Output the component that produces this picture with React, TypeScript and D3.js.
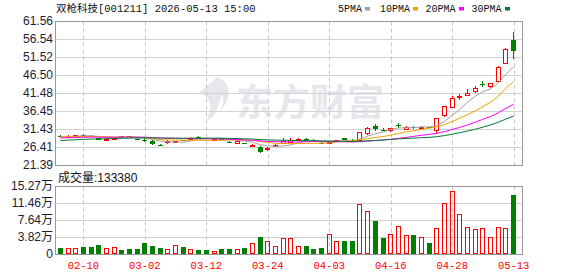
import React, { useRef, useEffect } from 'react';
import * as d3 from 'd3';

// trading days shown (MM-DD)
const dates = [
  '02-05', '02-06', '02-09', '02-10', '02-11', '02-12', '02-13', '02-24', '02-25', '02-26',
  '02-27', '03-02', '03-03', '03-04', '03-05', '03-06', '03-09', '03-10', '03-11', '03-12',
  '03-13', '03-16', '03-17', '03-18', '03-19', '03-20', '03-23', '03-24', '03-25', '03-26',
  '03-27', '03-30', '03-31', '04-01', '04-02', '04-03', '04-07', '04-08', '04-09', '04-10',
  '04-13', '04-14', '04-15', '04-16', '04-17', '04-20', '04-21', '04-22', '04-23', '04-24',
  '04-27', '04-28', '04-29', '04-30', '05-06', '05-07', '05-08', '05-11', '05-12', '05-13',
];

const opens = [
  29.55, 29.45, 29.5, 29.8, 29.6, 28.8, 28.55, 28.7, 29.4, 29.35,
  28.75, 28.45, 28.2, 27.1, 27.75, 27.9, 28.4, 28.9, 29.3, 28.9,
  28.4, 28.75, 27.85, 27.5, 27.5, 26.95, 26.45, 25.8, 26.9, 27.6,
  27.8, 28.6, 28.65, 28.45, 27.6, 27.5, 28.05, 28.9, 28.2, 28.3,
  30.2, 32.3, 31.25, 31.1, 32.55, 31.55, 32.1, 31.65, 31.9, 31.11,
  35.3, 37.54, 40.4, 40.8, 41.9, 43.95, 43.3, 44.9, 49.86, 56.19,
];
const closes = [
  29.45, 29.6, 29.62, 29.65, 29.4, 28.5, 28.7, 28.85, 29.25, 29.2,
  28.6, 28.35, 27.2, 26.95, 28.2, 28.1, 28.25, 29.05, 29.2, 28.7,
  28.7, 28.6, 27.7, 27.95, 27.4, 27.05, 25.1, 26.25, 27.05, 28.1,
  28.35, 28.7, 28.1, 28.35, 27.45, 27.8, 28.4, 28.4, 28.1, 30.63,
  31.8, 31.4, 31.15, 31.7, 32.55, 32.1, 31.6, 32.0, 31.75, 34.47,
  37.8, 40.06, 40.55, 41.6, 42.9, 43.95, 44.15, 48.74, 53.78, 53.11,
];
const highs = [
  29.8, 29.75, 29.75, 29.9, 29.7, 29.0, 28.85, 29.0, 29.5, 29.45,
  28.85, 28.9, 28.3, 27.2, 28.25, 28.2, 28.5, 29.2, 29.4, 29.0,
  28.8, 28.8, 27.95, 28.0, 27.6, 27.2, 26.6, 26.4, 27.2, 28.8,
  28.9, 29.0, 28.8, 28.7, 27.7, 28.0, 28.5, 29.0, 28.6, 30.7,
  31.9, 32.9, 31.6, 31.8, 33.2, 32.3, 32.3, 32.2, 32.0, 34.6,
  37.9, 40.7, 41.2, 42.5, 43.4, 44.75, 44.3, 48.9, 54.0, 58.4,
];
const lows = [
  29.1, 29.35, 29.4, 29.55, 29.3, 28.3, 28.45, 28.6, 29.1, 29.1,
  28.5, 27.9, 27.1, 26.85, 27.2, 27.4, 28.1, 28.8, 29.1, 28.6,
  28.3, 28.5, 27.6, 27.2, 27.3, 26.8, 24.7, 25.3, 26.8, 27.5,
  27.6, 28.3, 28.0, 28.1, 27.3, 27.4, 27.9, 28.3, 27.9, 28.1,
  29.8, 31.0, 30.9, 30.55, 31.7, 31.4, 31.5, 31.5, 31.6, 30.0,
  34.7, 37.4, 39.6, 40.6, 41.4, 43.1, 42.9, 44.5, 49.7, 50.98,
];
const volumes = [
  14100, 14000, 14000, 16300, 16300, 20800, 14000, 15500, 9600, 12000,
  12000, 25300, 18500, 14000, 12000, 19500, 16300, 12000, 9600, 9600,
  7400, 12000, 12000, 12000, 14000, 25300, 38700, 29800, 17700, 35800,
  35800, 17700, 18500, 12000, 14000, 44700, 29800, 29800, 29800, 111800,
  96100, 74400, 36400, 44700, 62600, 42500, 43200, 38000, 25300, 58100,
  114000, 140900, 90000, 60400, 55900, 58100, 38000, 60400, 58100, 133380,
];
// closes before the visible window, needed for the moving averages
const priorCloses = [
  26.2, 26.5, 26.4, 26.9, 27.1, 26.8, 27.0, 26.9, 27.2, 27.3,
  27.9, 28.3, 28.6, 28.4, 28.8, 28.7, 28.9, 28.6, 28.8, 29.0,
  29.1, 29.3, 29.0, 29.4, 29.2, 29.3, 29.1, 29.0, 29.3,
];

const priceTicks = [21.39, 26.41, 31.43, 36.45, 41.48, 46.5, 51.52, 56.54, 61.56];
const volTicks = [0, 38200, 76400, 114600, 152700];
const xLabels = ['02-10', '03-02', '03-12', '03-24', '04-03', '04-16', '04-28', '05-13'];
const maPeriods = [5, 10, 20, 30];
const maNames = ['5PMA', '10PMA', '20PMA', '30PMA'];

const title = '双枪科技[001211] 2026-05-13 15:00';
const volTitle = '成交量:133380';

const UP = '#ff0000';
const DOWN = '#008000';
const maColors = ['#a0a0a0', '#f0a000', '#ff00ff', '#007a33'];
const MONO = "'Liberation Mono', 'Noto Sans CJK SC', monospace";
const SANS = "'Liberation Sans', 'Noto Sans CJK SC', sans-serif";

function KChart() {
  const svgRef = useRef<SVGSVGElement>(null);

  useEffect(() => {
    const svg = d3.select(svgRef.current);
    svg.selectAll('*').remove();

    const left = 55.5;
    const right = 522.5;

    const x = d3.scaleBand().domain(dates).range([56.5, 517.5]);
    const bw = x.bandwidth();
    const cx = (d: string) => (x(d) as number) + bw / 2;
    const yP = d3.scaleLinear().domain([21.39, 61.56]).range([165, 21]);
    const yV = d3.scaleLinear().domain([0, 152700]).range([254, 186]);

    // watermark
    const wm = svg.append('g').attr('fill', '#e6e6ec');
    wm.append('path').attr(
      'd',
      'M217 77 C236 84 232 108 206 121 C214 106 210 96 199 93 C205 86 212 83 217 77 Z'
    );
    wm.append('path').attr('d', 'M222 95 C226 104 220 114 212 119 C218 110 219 102 222 95 Z').attr('fill', '#fff');
    wm.append('text')
      .attr('x', 236)
      .attr('y', 116)
      .attr('font-family', "'Noto Sans CJK SC', sans-serif")
      .attr('font-weight', 'bold')
      .attr('font-size', 37)
      .text('东方财富');

    // horizontal grid
    const grid = svg.append('g').attr('stroke', '#d2d2d2').attr('stroke-width', 1);
    priceTicks.slice(1, -1).forEach((t) => {
      const y = Math.round(yP(t)) + 0.5;
      grid.append('line').attr('x1', left).attr('x2', right).attr('y1', y).attr('y2', y);
    });
    volTicks.slice(1, -1).forEach((t) => {
      const y = Math.round(yV(t)) + 0.5;
      grid.append('line').attr('x1', left).attr('x2', right).attr('y1', y).attr('y2', y);
    });

    // vertical dashed grid
    const vgrid = svg.append('g').attr('stroke', '#c8c8c8').attr('stroke-dasharray', '4,3');
    xLabels.forEach((d) => {
      const xx = Math.round(cx(d)) + 0.5;
      vgrid.append('line').attr('x1', xx).attr('x2', xx).attr('y1', 21.5).attr('y2', 165.5);
      vgrid.append('line').attr('x1', xx).attr('x2', xx).attr('y1', 186.5).attr('y2', 254.5);
    });

    // frames
    svg.append('rect').attr('x', left).attr('y', 21.5).attr('width', right - left).attr('height', 144)
      .attr('fill', 'none').attr('stroke', '#999');
    svg.append('rect').attr('x', left).attr('y', 186.5).attr('width', right - left).attr('height', 68)
      .attr('fill', 'none').attr('stroke', '#999');

    // candles
    const rows = dates.map((d, i) => ({ d, o: opens[i], c: closes[i], h: highs[i], l: lows[i], v: volumes[i] }));
    const candles = svg.append('g');
    rows.forEach((r) => {
      const bl = Math.round(cx(r.d) - 2.5);
      const t = Math.round(yP(Math.max(r.o, r.c)));
      const b = Math.round(yP(Math.min(r.o, r.c)));
      const hy = Math.round(yP(r.h));
      const ly = Math.round(yP(r.l));
      const wx = bl + 2.5;
      if (r.c > r.o) {
        const h = Math.max(b - t, 1);
        candles.append('line').attr('x1', wx).attr('x2', wx).attr('y1', hy).attr('y2', t).attr('stroke', UP);
        candles.append('line').attr('x1', wx).attr('x2', wx).attr('y1', t + h + 1).attr('y2', ly).attr('stroke', UP);
        candles.append('rect').attr('x', bl + 0.5).attr('y', t + 0.5).attr('width', 4).attr('height', h)
          .attr('fill', '#fff').attr('stroke', UP);
      } else {
        candles.append('line').attr('x1', wx).attr('x2', wx).attr('y1', hy).attr('y2', ly).attr('stroke', DOWN);
        candles.append('rect').attr('x', bl).attr('y', t).attr('width', 5).attr('height', Math.max(b - t, 1))
          .attr('fill', DOWN);
      }
    });

    // moving averages
    const allCloses = priorCloses.concat(closes);
    const line = d3.line<number>().x((_, i) => cx(dates[i])).y((v) => yP(v));
    maPeriods.forEach((n, k) => {
      const ma = closes.map((_, i) => {
        const e = i + priorCloses.length;
        return d3.mean(allCloses.slice(e - n + 1, e + 1)) as number;
      });
      svg.append('path').attr('d', line(ma)).attr('fill', 'none').attr('stroke', maColors[k]).attr('stroke-width', 1);
    });

    // volume bars
    const vol = svg.append('g');
    rows.forEach((r) => {
      const bl = Math.round(cx(r.d) - 2.5);
      const top = Math.round(yV(r.v));
      if (r.c >= r.o) {
        vol.append('rect').attr('x', bl + 0.5).attr('y', top + 0.5).attr('width', 4).attr('height', 254 - top - 1)
          .attr('fill', 'none').attr('stroke', UP);
      } else {
        vol.append('rect').attr('x', bl).attr('y', top).attr('width', 5).attr('height', 254 - top).attr('fill', DOWN);
      }
    });

    // axes
    const pAxis = svg.append('g').attr('transform', 'translate(56,0)')
      .call(d3.axisLeft(yP).tickValues(priceTicks).tickFormat(d3.format('.2f')).tickSize(0).tickPadding(3));
    const vAxis = svg.append('g').attr('transform', 'translate(56,0)')
      .call(d3.axisLeft(yV).tickValues(volTicks).tickSize(0).tickPadding(3)
        .tickFormat((v: any) => (v === 0 ? '0' : (v / 10000).toFixed(2) + '万')));
    [pAxis, vAxis].forEach((g) => {
      g.select('.domain').remove();
      g.selectAll('text').attr('font-family', SANS).attr('font-size', 12).attr('fill', '#1c1c38');
    });
    const xAxis = svg.append('g').attr('transform', 'translate(0,254)')
      .call(d3.axisBottom(x).tickValues(xLabels).tickSize(0).tickPadding(8));
    xAxis.select('.domain').remove();
    xAxis.selectAll('text').attr('font-family', MONO).attr('font-size', 10.5).attr('fill', UP);

    // title & legend
    svg.append('text').attr('x', 56).attr('y', 12).attr('font-family', MONO).attr('font-size', 10.5)
      .attr('fill', '#111').text(title);
    svg.append('text').attr('x', 58).attr('y', 181.5).attr('font-family', SANS).attr('font-size', 12)
      .attr('fill', '#111').text(volTitle);

    const legendX = [338, 380, 425.5, 471.5];
    maNames.forEach((name, k) => {
      const tx = svg.append('text').attr('x', legendX[k]).attr('y', 12).attr('font-family', MONO)
        .attr('font-size', 10).attr('fill', '#111').text(name);
      const w = (tx.node() as SVGTextElement).getComputedTextLength();
      svg.append('rect').attr('x', Math.round(legendX[k] + w + 3)).attr('y', 7).attr('width', 5).attr('height', 3.5)
        .attr('fill', maColors[k]);
    });
  }, []);

  return (
    <svg
      ref={svgRef}
      width={578}
      height={276}
      style={{ position: 'absolute', left: 0, top: 0, background: '#fff' }}
    ></svg>
  );
}

export default function App() {
  return <KChart />;
}
